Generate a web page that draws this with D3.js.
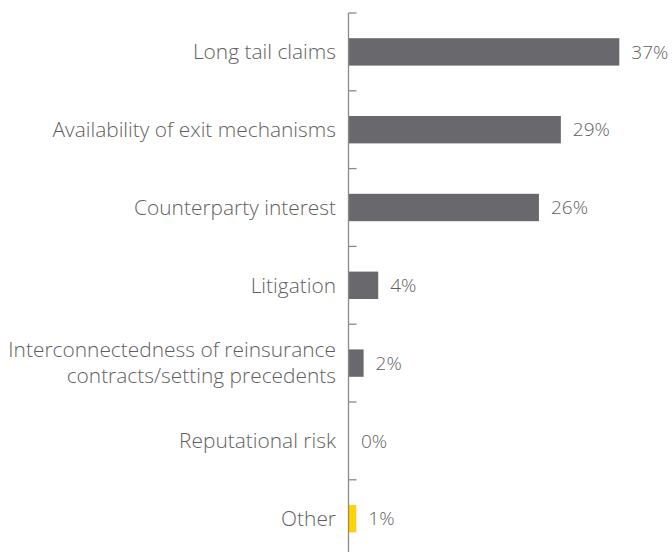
<!DOCTYPE html>
<html>
<head>
<meta charset="utf-8">
<script src="https://cdn.jsdelivr.net/npm/d3@7"></script>
<style>
  html, body { margin: 0; padding: 0; background: #fff; }
  svg { display: block; }
  text { font-family: "Open Sans", "Noto Sans", sans-serif; font-weight: 300; fill: #5f5f5f; }
</style>
</head>
<body>
<svg id="chart" width="672" height="552"></svg>
<script>
// Category labels (multi-line labels split into lines)
const categories = [
  ["Long tail claims"],
  ["Availability of exit mechanisms"],
  ["Counterparty interest"],
  ["Litigation"],
  ["Interconnectedness of reinsurance", "contracts/setting precedents"],
  ["Reputational risk"],
  ["Other"]
];
const values = [37, 29, 26, 4, 2, 0, 1];
const highlight = [false, false, false, false, false, false, true];

const svg = d3.select("#chart");
const W = 672, H = 552;
const axisX = 348.5;
const plotTop = 13, step = 77.8;

const keys = categories.map((c, i) => i);

const y = d3.scaleBand()
  .domain(keys)
  .range([plotTop, plotTop + step * keys.length])
  .paddingInner(0.648)
  .paddingOuter(0.324);

const yBounds = d3.scaleBand()
  .domain(keys)
  .range([plotTop, plotTop + step * keys.length])
  .padding(0);

const x = d3.scaleLinear()
  .domain([0, 37])
  .range([axisX + 0.5, 619.3]);

// bars
svg.append("g").selectAll("rect")
  .data(keys)
  .join("rect")
  .attr("x", x(0))
  .attr("y", i => y(i))
  .attr("width", i => x(values[i]) - x(0))
  .attr("height", y.bandwidth())
  .attr("fill", i => highlight[i] ? "#ffd200" : "#68686d");

// axis line and boundary ticks
const axis = svg.append("g").attr("stroke", "#8a8a8a").attr("stroke-width", 1.3);
axis.append("line")
  .attr("x1", axisX).attr("x2", axisX)
  .attr("y1", plotTop).attr("y2", H);
axis.selectAll("line.tick")
  .data(keys)
  .join("line")
  .attr("class", "tick")
  .attr("x1", axisX).attr("x2", axisX + 8)
  .attr("y1", i => yBounds(i)).attr("y2", i => yBounds(i));

// category labels
const fs = 20.9, lh = 26;
svg.append("g").selectAll("text")
  .data(keys)
  .join("text")
  .attr("text-anchor", "end")
  .attr("font-size", fs)
  .each(function(i) {
    const lines = categories[i];
    const cy = y(i) + y.bandwidth() / 2;
    const t = d3.select(this);
    lines.forEach((ln, k) => {
      t.append("tspan")
        .attr("x", 336)
        .attr("y", cy + (k - (lines.length - 1) / 2) * lh)
        .attr("dy", "0.35em")
        .text(ln);
    });
  });

// value labels
svg.append("g").selectAll("text")
  .data(keys)
  .join("text")
  .attr("x", i => x(values[i]) + 12)
  .attr("y", i => y(i) + y.bandwidth() / 2)
  .attr("dy", "0.35em")
  .attr("font-size", 19)
  .text(i => values[i] + "%");
</script>
</body>
</html>
